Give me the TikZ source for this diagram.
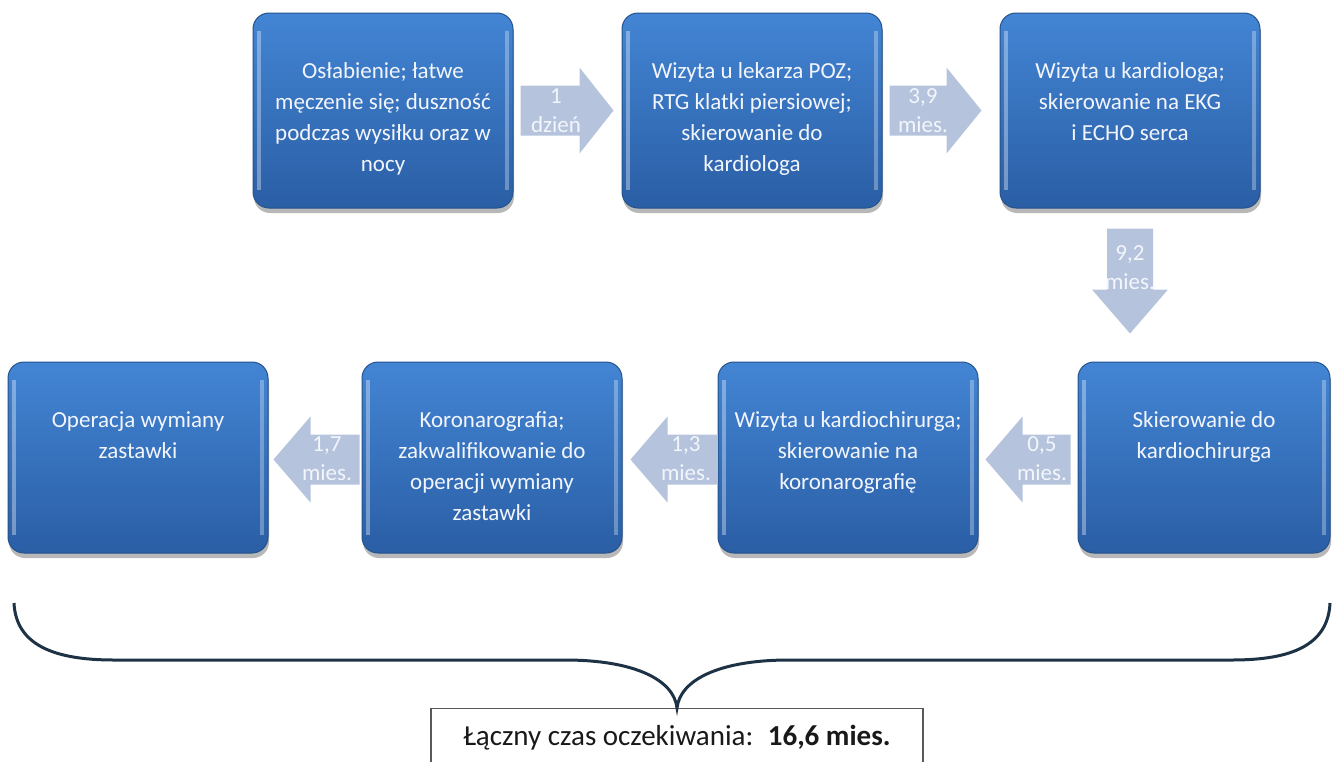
\documentclass[tikz,border=0pt]{standalone}
\usepackage{fontspec}
\setmainfont{Carlito}
\usetikzlibrary{calc,shadows}
\definecolor{boxtop}{HTML}{4385D4}
\definecolor{boxbot}{HTML}{2A5EA5}
\definecolor{boxline}{HTML}{24528C}
\definecolor{arrfill}{HTML}{B5C3DD}
\definecolor{arrtxt}{HTML}{F3F6FB}
\definecolor{boxtxt}{HTML}{F2F5FB}
\definecolor{bracecol}{HTML}{1E3246}
\newcommand\hblock[3]{%
  \fill[blockarrow] let \p1=(#1), \p2=(#2) in
    (\x1,\y1+25pt) -- (\x2-#3pt,\y1+25pt) -- (\x2-#3pt,\y1+43pt) -- (\x2,\y1)
    -- (\x2-#3pt,\y1-43pt) -- (\x2-#3pt,\y1-25pt) -- (\x1,\y1-25pt) -- cycle;}
\begin{document}
\begin{tikzpicture}[x=1pt,y=-1pt,
  stepbox/.style={rounded corners=16pt, draw=boxline, line width=1pt,
    top color=boxtop, bottom color=boxbot, inner sep=0pt,
    minimum width=260pt,
    drop shadow={shadow xshift=1pt, shadow yshift=-5pt, opacity=.28, fill=black},
    path picture={
      \draw[white, opacity=.35, line width=4pt]
        ([xshift=6pt,yshift=-18pt]path picture bounding box.north west) --
        ([xshift=6pt,yshift=18pt]path picture bounding box.south west);
      \draw[white, opacity=.30, line width=4pt]
        ([xshift=-6pt,yshift=-18pt]path picture bounding box.north east) --
        ([xshift=-6pt,yshift=18pt]path picture bounding box.south east);}},
  boxtext/.style={text=boxtxt, font=\fontsize{23}{31}\selectfont, align=center, inner sep=0pt, anchor=north},
  blockarrow/.style={fill=arrfill},
  arrowtext/.style={text=arrtxt, font=\fontsize{23}{29}\selectfont, align=center, inner sep=0pt},
  bracestyle/.style={draw=bracecol, line width=3pt},
  totalbox/.style={draw=black!65, line width=1.3pt, fill=white, inner sep=0pt,
    font=\fontsize{29}{34}\selectfont, text=black!90}
]
\clip (0,0) rectangle (1332,761);
\useasboundingbox (0,0) rectangle (1332,761);

% row 1
\node[stepbox, minimum height=195pt] (b1) at (383,110.5) {};
\node[stepbox, minimum height=195pt] (b2) at (752,110.5) {};
\node[stepbox, minimum height=195pt] (b3) at (1130,110.5) {};
% row 2
\node[stepbox, minimum height=191pt] (bA) at (138,457.5) {};
\node[stepbox, minimum height=191pt] (bB) at (492,457.5) {};
\node[stepbox, minimum height=191pt] (bC) at (848,457.5) {};
\node[stepbox, minimum height=191pt, minimum width=252pt] (bD) at (1204,457.5) {};

\node[boxtext] (t1) at ([yshift=-50pt]b1.north) {Osłabienie; łatwe\\męczenie się; duszność\\podczas wysiłku oraz w\\nocy};
\node[boxtext] (t2) at ([yshift=-50pt]b2.north) {Wizyta u lekarza POZ;\\RTG klatki piersiowej;\\skierowanie do\\kardiologa};
\node[boxtext] (t3) at ([yshift=-50pt]b3.north) {Wizyta u kardiologa;\\skierowanie na EKG\\i ECHO serca};
\node[boxtext] (tA) at ([yshift=-50pt]bA.north) {Operacja wymiany\\zastawki};
\node[boxtext] (tB) at ([yshift=-50pt]bB.north) {Koronarografia;\\zakwalifikowanie do\\operacji wymiany\\zastawki};
\node[boxtext] (tC) at ([yshift=-50pt]bC.north) {Wizyta u kardiochirurga;\\skierowanie na\\koronarografię};
\node[boxtext] (tD) at ([yshift=-50pt]bD.north) {Skierowanie do\\kardiochirurga};

% block arrows
\hblock{$(b1.east)+(7,0)$}{$(b2.west)+(-8,0)$}{34}
\hblock{$(b2.east)+(7,0)$}{$(b3.west)+(-18,0)$}{35}
\hblock{$(bD.west)+(-7,2)$}{$(bC.east)+(7,2)$}{-37}
\hblock{$(bC.west)+(0,2)$}{$(bB.east)+(8,2)$}{-37}
\hblock{$(bB.west)+(-2,2)$}{$(bA.east)+(5,2)$}{-37}
\fill[blockarrow] let \p1=(b3.south), \p2=(bD.north) in
  (\x1-23pt,\y1-20pt) -- (\x1+23pt,\y1-20pt) -- (\x1+23pt,\y2+72pt) -- (\x1+38pt,\y2+72pt)
  -- (\x1,\y2+28pt) -- (\x1-38pt,\y2+72pt) -- (\x1-23pt,\y2+72pt) -- cycle;

\node[arrowtext] (a12) at (556,111) {1\\dzień};
\node[arrowtext] (a23) at (923,111) {3,9\\mies.};
\node[arrowtext] (a3D) at (1130,268) {9,2\\mies.};
\node[arrowtext] (aDC) at (1042,459) {0,5\\mies.};
\node[arrowtext] (aCB) at (686,459) {1,3\\mies.};
\node[arrowtext] (aBA) at (327,459) {1,7\\mies.};

% total
\node[totalbox, anchor=north, minimum width=492pt, minimum height=58pt] (total) at (677,708)
  {Łączny czas oczekiwania:\hspace{0.5em}\textbf{16,6 mies.}};
\draw[bracestyle] (14,603) .. controls (16,645) and (54,660) .. (114,660) -- (565,660)
  .. controls (635,660) and (674,680) .. (total.north)
  .. controls (680,680) and (719,660) .. (789,660) -- (1232,660)
  .. controls (1292,660) and (1328,645) .. (1330,603);
\end{tikzpicture}
\end{document}
